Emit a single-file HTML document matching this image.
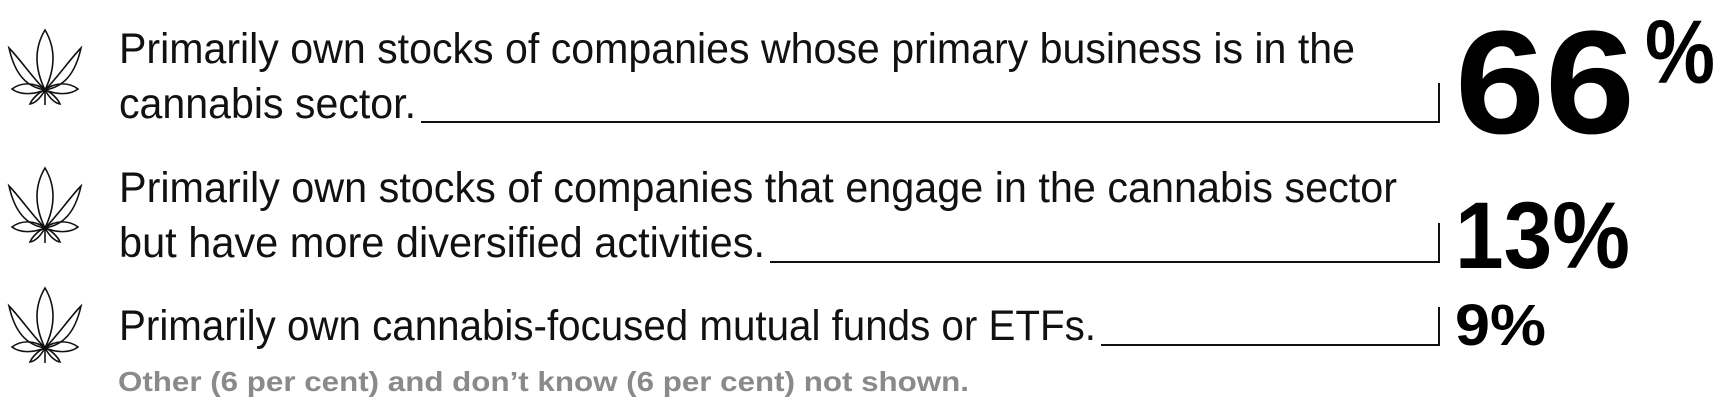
<!DOCTYPE html>
<html><head><meta charset="utf-8"><style>
html,body{margin:0;padding:0;background:#fff;}
svg{display:block;}
</style></head><body>
<svg id="chart" width="1727" height="413" viewBox="0 0 1727 413" xmlns="http://www.w3.org/2000/svg" font-family="'Liberation Sans', sans-serif">
<g id="rows"></g>
<text x="118" y="391" font-size="28" font-weight="bold" fill="#8a8a8c" textLength="851" lengthAdjust="spacingAndGlyphs">Other (6 per cent) and don’t know (6 per cent) not shown.</text>
</svg>
<script>
const values = [66, 13, 9];
const labelLines = [
  ["Primarily own stocks of companies whose primary business is in the", "cannabis sector."],
  ["Primarily own stocks of companies that engage in the cannabis sector", "but have more diversified activities."],
  ["Primarily own cannabis-focused mutual funds or ETFs."]
];
const NS = "http://www.w3.org/2000/svg";
const g = document.getElementById('rows');
// layout (not data)
const rowTop = [30, 168, 288];
const lineBase = [[63, 118], [202, 257], [340]];
const lineW = [[1236, 297], [1278, 646], [977]];
const bracket = [[83, 122], [223, 262], [307, 345]];
const numStyle = [
  {size:147, y:133, w:180, pctSeparate:true},
  {size:95, y:268, w:175},
  {size:58, y:345, w:91}
];
function mk(tag, attrs){const e=document.createElementNS(NS,tag);for(const k in attrs)e.setAttribute(k,attrs[k]);return e;}
function leaf(cx, top){
  const gg = mk('g',{fill:'none',stroke:'#111','stroke-width':'1.6'});
  
  
  const j = top+60;
  const p = (d)=>gg.appendChild(mk('path',{d}));
  p(`M${cx},${j} C${cx-12},${j-25} ${cx-9},${top+15} ${cx},${top} C${cx+9},${top+15} ${cx+12},${j-25} ${cx},${j}Z`);
  p(`M${cx},${j} C${cx-12},${j-12} ${cx-26},${j-32} ${cx-36},${j-42} C${cx-30},${j-15} ${cx-18},${j-3} ${cx},${j}Z`);
  p(`M${cx},${j} C${cx+12},${j-12} ${cx+26},${j-32} ${cx+36},${j-42} C${cx+30},${j-15} ${cx+18},${j-3} ${cx},${j}Z`);
  p(`M${cx},${j} C${cx-10},${j-8} ${cx-24},${j-8} ${cx-33},${j-1} C${cx-24},${j+6} ${cx-10},${j+4} ${cx},${j}Z`);
  p(`M${cx},${j} C${cx+10},${j-8} ${cx+24},${j-8} ${cx+33},${j-1} C${cx+24},${j+6} ${cx+10},${j+4} ${cx},${j}Z`);
  p(`M${cx},${j} C${cx-6},${j+2} ${cx-13},${j+9} ${cx-15},${j+14} C${cx-9},${j+13} ${cx-4},${j+7} ${cx},${j}Z`);
  p(`M${cx},${j} C${cx+6},${j+2} ${cx+13},${j+9} ${cx+15},${j+14} C${cx+9},${j+13} ${cx+4},${j+7} ${cx},${j}Z`);
  p(`M${cx},${j} L${cx},${top+75}`);
  return gg;
}
values.forEach((v,i)=>{
  const row = mk('g',{});
  
  
  row.appendChild(leaf(45, rowTop[i]));
  const lines = labelLines[i];
  let lastEnd = 0;
  lines.forEach((t,k)=>{
    const tx = mk('text',{x:119,y:lineBase[i][k],'font-size':43,fill:'#111',textLength:lineW[i][k],lengthAdjust:'spacingAndGlyphs'});
    
    
    tx.textContent = t;
    row.appendChild(tx);
    lastEnd = 119 + lineW[i][k];
  });
  const br = mk('path',{d:`M${lastEnd+5},${bracket[i][1]} L1439,${bracket[i][1]} L1439,${bracket[i][0]}`,fill:'none',stroke:'#111','stroke-width':'2'});
  
  
  row.appendChild(br);
  const s = numStyle[i];
  if(s.pctSeparate){
    const n = mk('text',{x:1455,y:s.y,'font-size':s.size,'font-weight':'bold',fill:'#000',textLength:s.w,lengthAdjust:'spacingAndGlyphs'});
    
    
    n.textContent = String(v);
    row.appendChild(n);
    const pc = mk('text',{x:1645,y:83,'font-size':90,'font-weight':'bold',fill:'#000',textLength:70,lengthAdjust:'spacingAndGlyphs'});
    
    
    pc.textContent = '%';
    row.appendChild(pc);
  } else {
    const n = mk('text',{x:1455,y:s.y,'font-size':s.size,'font-weight':'bold',fill:'#000',textLength:s.w,lengthAdjust:'spacingAndGlyphs'});
    
    
    n.textContent = v + '%';
    row.appendChild(n);
  }
  g.appendChild(row);
});
</script>
</body></html>
